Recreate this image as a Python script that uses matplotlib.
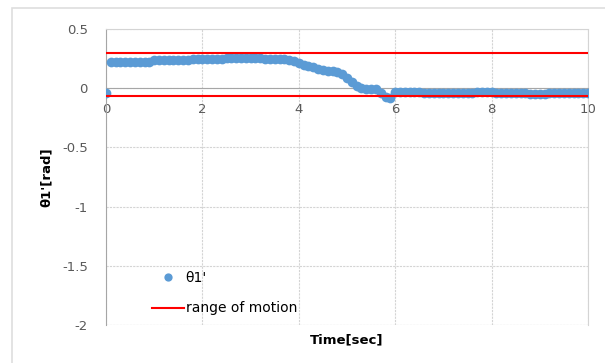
import numpy as np
import matplotlib
matplotlib.use('Agg')
from matplotlib import pyplot as plt
from matplotlib.patches import Rectangle

# samples every 0.1 s
t = np.round(np.arange(0, 10.01, 0.1), 1)
theta = [
    -0.04,
    0.222, 0.222, 0.222, 0.222, 0.222, 0.222, 0.222, 0.222, 0.222,
    0.235, 0.235, 0.235, 0.235, 0.235, 0.235, 0.235, 0.235,
    0.248, 0.248, 0.248, 0.248, 0.248, 0.248, 0.248,
    0.258, 0.258, 0.258, 0.258, 0.258, 0.258, 0.258, 0.258,
    0.25, 0.25, 0.25, 0.25,
    0.243, 0.235, 0.228, 0.215, 0.2, 0.188, 0.175, 0.165, 0.15, 0.148,
    0.148, 0.14, 0.12, 0.09, 0.05, 0.015, 0.0, -0.003, -0.005, -0.01,
    -0.04, -0.075, -0.085, -0.03,
    -0.03, -0.03, -0.03, -0.03, -0.03,
    -0.042, -0.042, -0.042, -0.042, -0.042, -0.042, -0.042, -0.042, -0.042, -0.042, -0.042,
    -0.033, -0.033, -0.033, -0.033,
    -0.04, -0.04, -0.04, -0.04, -0.04, -0.04, -0.04,
    -0.052, -0.052, -0.052, -0.052,
    -0.038, -0.038, -0.038, -0.038, -0.038, -0.038, -0.038, -0.038, -0.038,
]
range_upper = 0.3
range_lower = -0.07
t_range = [0, 10]

fig = plt.figure(figsize=(6.05, 3.63), dpi=100)
fig.patches.append(Rectangle((12 / 605, -0.1), 1.1, 1 - 8 / 363 + 0.1,
                             transform=fig.transFigure, fill=False,
                             edgecolor='#dedede', lw=1.2))
ax = fig.add_axes([106 / 605, 1 - 325 / 363, 482 / 605, 296 / 363])

ax.plot(t, theta, 'o', color='#5b9bd5', markersize=7, markeredgewidth=0,
        label="θ1'", zorder=3)
ax.plot(t_range, [range_upper] * 2, color='#ff0000', lw=1.5,
        label='range of motion', zorder=4)
ax.plot(t_range, [range_lower] * 2, color='#ff0000', lw=1.5, zorder=4)

ax.set_xlim(0, 10)
ax.set_ylim(-2, 0.5)
ax.set_xticks([0, 2, 4, 6, 8, 10])
ax.set_yticks([-2, -1.5, -1, -0.5, 0, 0.5])
ax.set_yticklabels(['-2', '-1.5', '-1', '-0.5', '0', '0.5'])

ax.grid(True, color='#d4d4d4', linestyle=(0, (2, 1)), lw=0.8, zorder=0)
ax.set_axisbelow(True)
for s in ['top', 'right']:
    ax.spines[s].set_color('#d4d4d4')
    ax.spines[s].set_linestyle((0, (2, 1)))
    ax.spines[s].set_linewidth(0.8)
ax.spines['left'].set_color('#a6a6a6')
ax.spines['bottom'].set_position(('data', 0))
ax.spines['bottom'].set_color('#a6a6a6')
ax.axhline(-2, color='#d4d4d4', linestyle=(0, (2, 1)), lw=0.8, zorder=0)
ax.tick_params(length=0, labelsize=9.5, colors='#595959')
ax.tick_params(axis='y', pad=13)
ax.tick_params(axis='x', pad=11)

ax.set_ylabel("θ1'[rad]", fontsize=9.5, fontweight='bold', labelpad=7)
ax.set_xlabel('Time[sec]', fontsize=9.5, fontweight='bold')
ax.xaxis.set_label_coords(0.5, -0.03)

ax.legend(loc='lower left', bbox_to_anchor=(0.07, -0.01), frameon=False,
          fontsize=10, handlelength=2.3, handletextpad=0.1, labelspacing=1.2,
          markerscale=0.85)

fig.savefig('out.png', dpi=100)
